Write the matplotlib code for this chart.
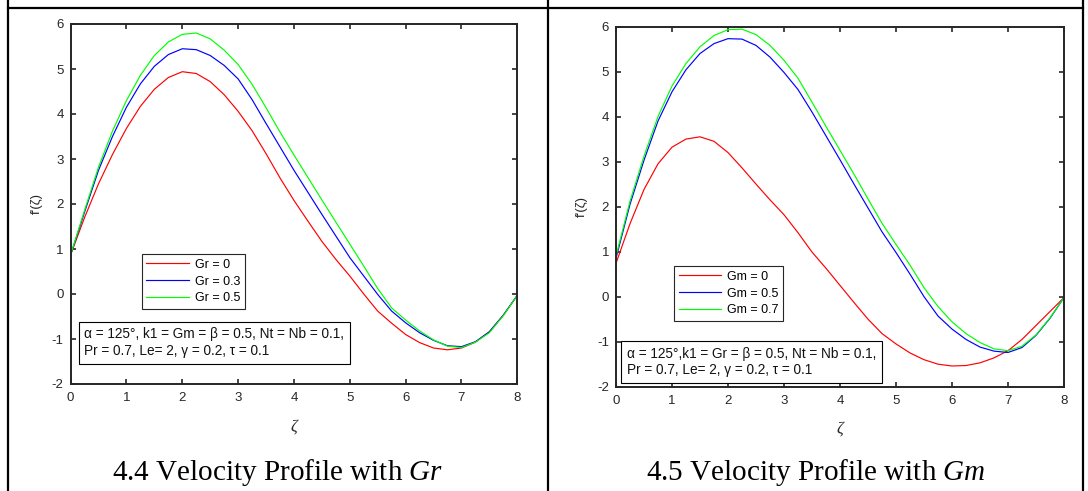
import matplotlib
matplotlib.use('Agg')
import matplotlib.pyplot as plt
from matplotlib.lines import Line2D

plt.rcParams['font.family'] = ['Liberation Sans', 'DejaVu Sans']
plt.rcParams['axes.unicode_minus'] = False
plt.rcParams['mathtext.fontset'] = 'custom'
plt.rcParams['mathtext.rm'] = 'Liberation Serif'
plt.rcParams['mathtext.it'] = 'Liberation Serif:italic'

# similarity variable (zeta) shared by all curves
zeta = [0.00, 0.25, 0.50, 0.75, 1.00, 1.25, 1.50, 1.75, 2.00, 2.25, 2.50,
        2.75, 3.00, 3.25, 3.50, 3.75, 4.00, 4.25, 4.50, 4.75, 5.00, 5.25,
        5.50, 5.75, 6.00, 6.25, 6.50, 6.75, 7.00, 7.25, 7.50, 7.75, 8.00]

# panel 4.4 - effect of Gr
gr_labels = ['Gr = 0', 'Gr = 0.3', 'Gr = 0.5']
gr_0 = [0.87, 1.70, 2.45, 3.10, 3.68, 4.17, 4.55, 4.81, 4.94, 4.90, 4.72,
        4.43, 4.06, 3.63, 3.12, 2.58, 2.08, 1.62, 1.17, 0.77, 0.40, 0.00,
        -0.38, -0.65, -0.90, -1.08, -1.20, -1.24, -1.20, -1.07, -0.84, -0.47, -0.03]
gr_03 = [0.87, 1.82, 2.75, 3.50, 4.15, 4.67, 5.06, 5.32, 5.45, 5.43, 5.30,
         5.08, 4.78, 4.32, 3.79, 3.27, 2.75, 2.26, 1.77, 1.29, 0.81, 0.40,
         -0.01, -0.38, -0.64, -0.86, -1.03, -1.15, -1.17, -1.06, -0.84, -0.47, -0.03]
gr_05 = [0.87, 1.86, 2.82, 3.62, 4.30, 4.86, 5.30, 5.60, 5.77, 5.80, 5.67,
         5.42, 5.10, 4.66, 4.14, 3.60, 3.09, 2.59, 2.09, 1.60, 1.11, 0.62,
         0.12, -0.31, -0.58, -0.82, -1.02, -1.16, -1.19, -1.07, -0.86, -0.48, -0.03]

# panel 4.5 - effect of Gm
gm_labels = ['Gm = 0', 'Gm = 0.5', 'Gm = 0.7']
gm_0 = [0.74, 1.62, 2.38, 2.95, 3.32, 3.50, 3.55, 3.45, 3.20, 2.86, 2.50,
        2.15, 1.82, 1.42, 0.99, 0.63, 0.25, -0.13, -0.50, -0.82, -1.05, -1.25,
        -1.40, -1.50, -1.54, -1.53, -1.47, -1.36, -1.20, -0.95, -0.64, -0.33, -0.02]
gm_05 = [0.85, 2.05, 3.03, 3.90, 4.55, 5.04, 5.40, 5.62, 5.73, 5.72, 5.58,
         5.32, 4.98, 4.60, 4.10, 3.57, 3.04, 2.50, 1.97, 1.44, 0.98, 0.50,
         0.00, -0.43, -0.72, -0.95, -1.12, -1.21, -1.24, -1.13, -0.86, -0.48, -0.02]
gm_07 = [0.90, 2.12, 3.12, 4.00, 4.68, 5.18, 5.55, 5.80, 5.93, 5.94, 5.82,
         5.58, 5.25, 4.85, 4.32, 3.78, 3.25, 2.72, 2.17, 1.63, 1.16, 0.70,
         0.20, -0.22, -0.56, -0.82, -1.02, -1.16, -1.20, -1.10, -0.85, -0.47, -0.02]

colors = ['#ff0000', '#0000ff', '#00ff00']
note_gr = 'α = 125°, k1 = Gm = β = 0.5, Nt = Nb = 0.1,\nPr = 0.7, Le= 2, γ = 0.2, τ = 0.1'
note_gm = 'α = 125°,k1 = Gr = β = 0.5, Nt = Nb = 0.1,\nPr = 0.7, Le= 2, γ = 0.2, τ = 0.1'
captions = ['4.4 Velocity Profile with $Gr$', '4.5 Velocity Profile with $Gm$']

W, H = 1088, 491
fig = plt.figure(figsize=(W / 100, H / 100), dpi=100)
dark = '#262626'


def panel(rect, curves, labels, note, leg_xy, note_xy):
    ax = fig.add_axes(rect)
    for ys, c, lab in zip(curves, colors, labels):
        ax.plot(zeta, ys, color=c, lw=0.85, label=lab, solid_joinstyle='round')
    ax.set_xlim(0, 8)
    ax.set_ylim(-2, 6)
    ax.set_xticks(range(0, 9))
    ax.set_yticks(range(-2, 7))
    for s in ax.spines.values():
        s.set_linewidth(1.4)
        s.set_color(dark)
    ax.tick_params(direction='in', top=True, right=True, length=3.5, width=1.2,
                   colors=dark, labelsize=9.5)
    ax.tick_params(axis='x', pad=6)
    ax.tick_params(axis='y', pad=5)
    ax.set_xlabel('ζ', family='Liberation Serif', style='italic', fontsize=12, color=dark)
    ax.xaxis.set_label_coords(0.5, -0.095)
    ax.set_ylabel("f'(ζ)", fontsize=9.5, color=dark)
    ax.yaxis.set_label_coords(-0.062, 0.5)
    leg = ax.legend(loc='upper left', bbox_to_anchor=leg_xy, borderaxespad=0,
                    fontsize=9, handlelength=3.4, handletextpad=0.45,
                    labelspacing=0.38, borderpad=0.38, fancybox=False,
                    edgecolor=dark, framealpha=1)
    leg.get_frame().set_linewidth(0.8)
    ax.text(note_xy[0], note_xy[1], note, transform=ax.transAxes, fontsize=9.8,
            ha='left', va='bottom', linespacing=1.25, color='#111111',
            bbox=dict(boxstyle='square,pad=0.4', fc='white', ec='black', lw=0.8))
    return ax


panel([70.6 / W, 1 - 384 / H, 446.7 / W, 360 / H], [gr_0, gr_03, gr_05],
      gr_labels, note_gr, (0.159, 0.361), (0.031, 0.072))
panel([616 / W, 1 - 386.7 / H, 448 / W, 360.2 / H], [gm_0, gm_05, gm_07],
      gm_labels, note_gm, (0.129, 0.335), (0.024, 0.026))

# table borders
for x in [7.5, 548, 1083]:
    fig.add_artist(Line2D([x / W, x / W], [0, 1], color='black', lw=1.6))
fig.add_artist(Line2D([7.5 / W, 1083 / W], [1 - 7.5 / H, 1 - 7.5 / H], color='black', lw=1.6))

fig.text(277.5 / W, 1 - 480 / H, captions[0], family='Liberation Serif', fontsize=21,
         ha='center', va='baseline')
fig.text(815.5 / W, 1 - 480 / H, captions[1], family='Liberation Serif', fontsize=21,
         ha='center', va='baseline')

fig.savefig('out.png', dpi=100)
